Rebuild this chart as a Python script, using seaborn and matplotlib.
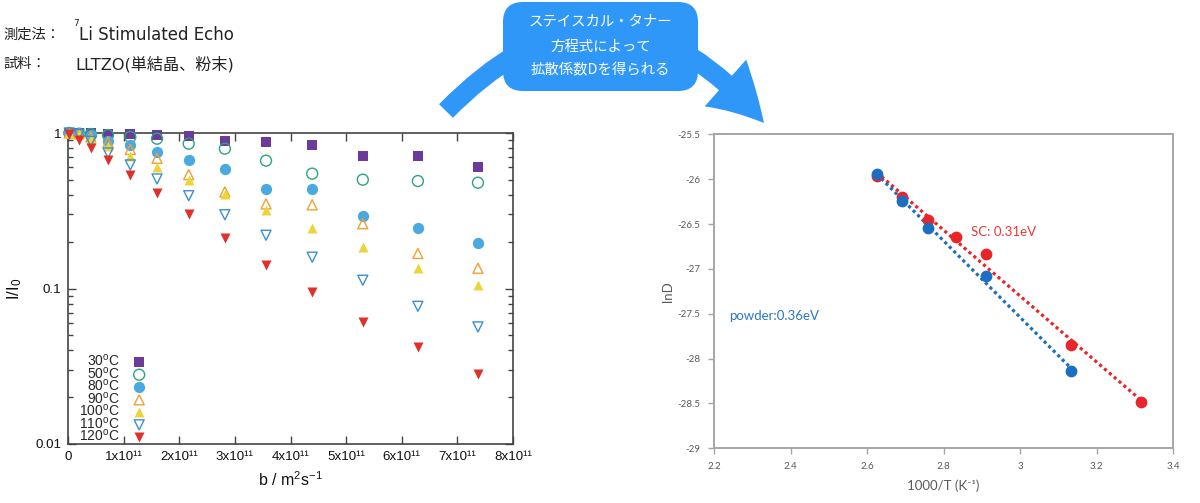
import matplotlib
matplotlib.use('Agg')
import matplotlib.pyplot as plt
import seaborn as sns
import numpy as np
from matplotlib.patches import FancyArrowPatch, FancyBboxPatch
from matplotlib.ticker import LogLocator, NullFormatter

# --- left chart: stimulated echo decay ---
b_vals = [0.023e11, 0.20e11, 0.41e11, 0.72e11, 1.12e11, 1.60e11, 2.17e11,
          2.82e11, 3.56e11, 4.39e11, 5.30e11, 6.29e11, 7.37e11]
i_30 = [1.0, 1.0, 0.995, 0.99, 0.985, 0.97, 0.95, 0.888, 0.875, 0.841, 0.708, 0.708, 0.605]
i_50 = [1.0, 0.99, 0.985, 0.97, 0.943, 0.919, 0.854, 0.793, 0.664, 0.548, 0.501, 0.491, 0.479]
i_80 = [1.0, 0.99, 0.975, 0.893, 0.833, 0.759, 0.671, 0.587, 0.434, 0.439, 0.291, 0.246, 0.196]
i_90 = [1.0, 0.99, 0.943, 0.873, 0.784, 0.688, 0.54, 0.418, 0.35, 0.345, 0.261, 0.168, 0.135]
i_100 = [1.0, 0.99, 0.915, 0.821, 0.715, 0.604, 0.499, 0.405, 0.318, 0.244, 0.184, 0.135, 0.105]
i_110 = [1.0, 0.98, 0.884, 0.744, 0.623, 0.506, 0.395, 0.298, 0.22, 0.159, 0.113, 0.0768, 0.0566]
i_120 = [0.98, 0.906, 0.801, 0.667, 0.534, 0.409, 0.3, 0.212, 0.142, 0.0954, 0.0612, 0.0419, 0.0284]
temp_labels = ['30$^{\\mathregular{o}}$C', '50$^{\\mathregular{o}}$C', '80$^{\\mathregular{o}}$C',
               '90$^{\\mathregular{o}}$C', '100$^{\\mathregular{o}}$C', '110$^{\\mathregular{o}}$C',
               '120$^{\\mathregular{o}}$C']
xtick_vals = [0, 1e11, 2e11, 3e11, 4e11, 5e11, 6e11, 7e11, 8e11]
xtick_labels = ['0', '1x10¹¹', '2x10¹¹', '3x10¹¹', '4x10¹¹', '5x10¹¹', '6x10¹¹', '7x10¹¹', '8x10¹¹']

# --- right chart: Arrhenius plot ---
inv_t_sc = [2.625, 2.69, 2.759, 2.832, 2.91, 3.133, 3.316]
lnd_sc = [-25.96, -26.20, -26.45, -26.65, -26.83, -27.85, -28.48]
inv_t_powder = [2.625, 2.69, 2.759, 2.91, 3.133]
lnd_powder = [-25.94, -26.24, -26.54, -27.08, -28.14]

sns.set_style('ticks')
plt.rcParams['font.family'] = ['Liberation Sans', 'DejaVu Sans']
plt.rcParams['mathtext.fontset'] = 'custom'
plt.rcParams['mathtext.rm'] = 'Liberation Sans'
plt.rcParams['mathtext.it'] = 'Liberation Sans:italic'

fig = plt.figure(figsize=(12, 5.03), dpi=100)

# left axes
ax1 = fig.add_axes([68 / 1200, 1 - 444 / 503, 445 / 1200, 311 / 503])
series = [
    (i_30, 's', '#6b3a9b', True, 60),
    (i_50, 'o', '#2aa67a', False, 62),
    (i_80, 'o', '#4aa9e0', True, 66),
    (i_90, '^', '#f0a035', False, 52),
    (i_100, '^', '#ecd43a', True, 52),
    (i_110, 'v', '#3a8fd3', False, 52),
    (i_120, 'v', '#e0302a', True, 52),
]
for lab, (vals, mk, col, filled, sz) in zip(temp_labels, series):
    if filled:
        kw = dict(color=col, linewidth=0)
    else:
        kw = dict(facecolor='none', edgecolor=col, linewidth=1.0)
    sns.scatterplot(x=b_vals, y=vals, marker=mk, s=sz, label=lab, ax=ax1,
                    clip_on=False, zorder=3, **kw)

ax1.set_yscale('log')
ax1.set_xlim(0, 8e11)
ax1.set_ylim(0.01, 1)
ax1.set_xticks(xtick_vals)
ax1.set_xticklabels(xtick_labels)
ax1.set_yticks([0.01, 0.1, 1])
ax1.set_yticklabels(['0.01', '0.1', '1'])
ax1.yaxis.set_minor_locator(LogLocator(base=10, subs=np.arange(2, 10)))
ax1.yaxis.set_minor_formatter(NullFormatter())
ax1.tick_params(which='both', direction='in', top=True, right=True,
                colors='#444444', labelcolor='#111111', labelsize=9.6, width=1)
ax1.tick_params(which='major', length=6, pad=5)
ax1.tick_params(which='minor', length=3.5)
for sp in ax1.spines.values():
    sp.set_color('#444444')
    sp.set_linewidth(1.2)
ax1.set_xlabel(r'b / m$^{2}$s$^{-1}$', fontsize=11.5, color='#111111')
ax1.set_ylabel(r'I/I$_{0}$', fontsize=12, color='#111111')
ax1.xaxis.set_label_coords(0.5, -0.085)
ax1.yaxis.set_label_coords(-0.1, 0.5)
ax1.legend(loc='lower left', bbox_to_anchor=(0.025, 0.0), markerfirst=False,
           frameon=False, fontsize=10, labelspacing=-0.25, handlelength=1.0,
           handletextpad=0.9, borderpad=0, borderaxespad=0)

# right axes
ax2 = fig.add_axes([714.3 / 1200, 1 - 448.3 / 503, 458.7 / 1200, 314 / 503])
red = '#e8262a'
blue = '#1b6ec2'
sns.regplot(x=inv_t_sc, y=lnd_sc, ci=None, ax=ax2, color=red,
            scatter_kws=dict(s=72, linewidths=0, zorder=3, alpha=1),
            line_kws=dict(ls=(0, (1, 1)), lw=2.3))
sns.regplot(x=inv_t_powder, y=lnd_powder, ci=None, ax=ax2, color=blue,
            scatter_kws=dict(s=72, linewidths=0, zorder=4, alpha=1),
            line_kws=dict(ls=(0, (1, 1)), lw=2.3))
ax2.set_xlim(2.2, 3.4)
ax2.set_ylim(-29, -25.5)
ax2.set_xticks([2.2, 2.4, 2.6, 2.8, 3.0, 3.2, 3.4])
ax2.set_xticklabels(['2.2', '2.4', '2.6', '2.8', '3', '3.2', '3.4'])
ax2.set_yticks([-29, -28.5, -28, -27.5, -27, -26.5, -26, -25.5])
ax2.set_yticklabels(['-29', '-28.5', '-28', '-27.5', '-27', '-26.5', '-26', '-25.5'])
ax2.tick_params(direction='out', length=4, width=1, colors='#a6a6a6',
                labelcolor='#595959', labelsize=7, pad=6)
for lbl in ax2.get_xticklabels() + ax2.get_yticklabels():
    lbl.set_family(['Lato', 'DejaVu Sans'])
for sp in ax2.spines.values():
    sp.set_visible(True)
    sp.set_color('#a6a6a6')
    sp.set_linewidth(1.4)
ax2.set_xlabel('1000/T (K⁻¹)', fontsize=9.5, color='#595959', family=['Lato', 'DejaVu Sans'])
ax2.set_ylabel('lnD', fontsize=9.5, color='#595959', family=['Lato', 'DejaVu Sans'])
ax2.xaxis.set_label_coords(0.5, -0.1)
ax2.yaxis.set_label_coords(-0.088, 0.5)
ax2.text(2.871, -26.59, 'SC: 0.31eV', color='#e83a3a', fontsize=9.5,
         va='center', ha='left', family=['Lato', 'DejaVu Sans'])
ax2.text(2.238, -27.52, 'powder:0.36eV', color='#2a76c6', fontsize=9.5,
         va='center', ha='left', family=['Lato', 'DejaVu Sans'])

# overlay in pixel coordinates for header, arrow and bubble
ov = fig.add_axes([0, 0, 1, 1], zorder=10)
ov.set_xlim(0, 1200)
ov.set_ylim(503, 0)
ov.axis('off')
jp = ['Noto Sans CJK JP', 'DejaVu Sans']
mix = ['DejaVu Sans', 'Noto Sans CJK JP']
ov.text(3, 35, '測定法：', fontsize=10.3, va='center', ha='left', color='#222222', family=jp)
ov.text(73, 23, '7', fontsize=6.5, va='center', ha='left', color='#222222', family=mix)
ov.text(79, 35, 'Li Stimulated Echo', fontsize=12, va='center', ha='left', color='#222222', family=mix)
ov.text(3, 64, '試料：', fontsize=10.3, va='center', ha='left', color='#222222', family=jp)
ov.text(75, 64, 'LLTZO(単結晶、粉末)', fontsize=11.6, va='center', ha='left', color='#222222', family=mix)

arrow_blue = '#2f97f7'
arr = FancyArrowPatch((446, 111), (764, 123), connectionstyle='arc3,rad=-0.55',
                      arrowstyle='simple,head_length=40,head_width=45,tail_width=14',
                      shrinkA=0, shrinkB=0, color=arrow_blue, linewidth=0, zorder=1)
ov.add_patch(arr)
bubble = FancyBboxPatch((503, 2), 195, 89, boxstyle='round,pad=0,rounding_size=20',
                        facecolor=arrow_blue, edgecolor='none', zorder=2)
ov.add_patch(bubble)
for txt, yy in [('ステイスカル・タナー', 21.5), ('方程式によって', 46.5), ('拡散係数Dを得られる', 70.5)]:
    ov.text(600.5, yy, txt, fontsize=10.4, color='white', ha='center', va='center',
            family=jp, zorder=3)

fig.savefig('out.png', dpi=100)
